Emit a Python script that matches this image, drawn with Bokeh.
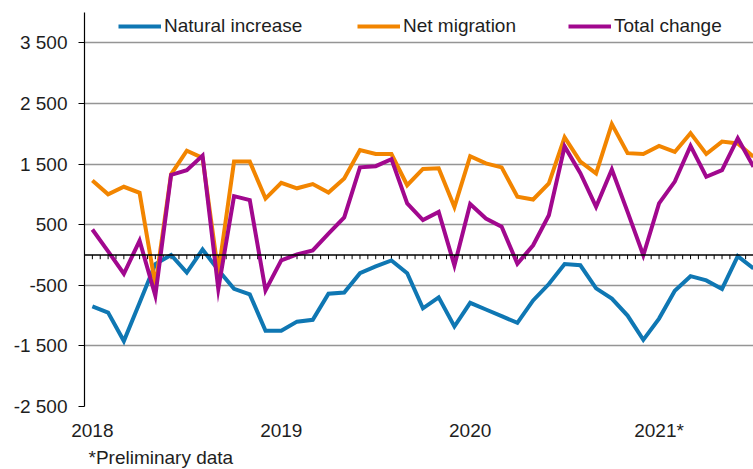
import numpy as np
from bokeh.plotting import figure
from bokeh.models import FixedTicker, Span, Legend, LegendItem, Title, Range1d, ColumnDataSource
from bokeh.embed import file_html
from bokeh.resources import INLINE

# Months Jan 2018 .. Jul 2021
months = [f"{y}-{m:02d}" for y in range(2018, 2022) for m in range(1, 13)][:43]

natural_increase = [-850, -950, -1420, -790, -150, 0, -290, 90, -250, -560, -650, -1250,
                    -1250, -1100, -1070, -640, -620, -300, -190, -90, -300, -880, -700, -1180,
                    -790, -900, -1010, -1120, -750, -480, -150, -170, -550, -720, -1000, -1400,
                    -1050, -590, -350, -420, -560, -20, -220]
net_migration = [1230, 1000, 1125, 1025, -500, 1330, 1720, 1600, -300, 1540, 1540, 930,
                 1190, 1100, 1170, 1030, 1260, 1730, 1665, 1665, 1150, 1420, 1430, 790,
                 1630, 1510, 1445, 960, 915, 1180, 1940, 1540, 1345, 2160, 1680, 1665,
                 1800, 1700, 2010, 1665, 1870, 1840, 1620]
total_change = [420, 60, -310, 235, -670, 1320, 1400, 1640, -560, 970, 905, -585,
                -90, 10, 75, 350, 620, 1445, 1465, 1580, 850, 575, 710, -175,
                840, 600, 465, -145, 160, 655, 1790, 1350, 795, 1410, 710, -5,
                850, 1210, 1800, 1290, 1400, 1925, 1455]

series_names = ["Natural increase", "Net migration", "Total change"]
series_colors = ["#0F77B3", "#F28500", "#A1088E"]

year_ticks = [0, 12, 24, 36]
year_labels = ["2018", "2019", "2020", "2021*"]
y_ticks = [-2500, -1500, -500, 500, 1500, 2500, 3500]
y_labels = ["-2 500", "-1 500", "-500", "500", "1 500", "2 500", "3 500"]
footnote = "*Preliminary data"

FONT = "Liberation Sans"
FS = "19px"
TXT = "#1e1e1e"

x = np.arange(len(months))
src = ColumnDataSource(dict(x=x, ni=natural_increase, nm=net_migration, tc=total_change))

p = figure(width=753, height=469, x_range=Range1d(-0.5, 42), y_range=Range1d(-2500, 4000),
           output_backend="svg", toolbar_location=None,
           min_border_left=84, min_border_right=0, min_border_top=12, min_border_bottom=0)
p.outline_line_color = None
p.background_fill_color = "white"

# axes
p.yaxis.ticker = FixedTicker(ticks=y_ticks)
p.yaxis.major_label_overrides = {t: l for t, l in zip(y_ticks, y_labels)}
p.yaxis.axis_line_color = "black"
p.yaxis.axis_line_width = 1.2
p.yaxis.major_tick_line_color = "black"
p.yaxis.major_tick_out = 6
p.yaxis.major_tick_in = 0
p.yaxis.minor_tick_line_color = None
p.yaxis.major_label_standoff = 11
p.yaxis.major_label_text_font = FONT
p.yaxis.major_label_text_font_size = FS
p.yaxis.major_label_text_color = TXT

p.xaxis.ticker = FixedTicker(ticks=year_ticks)
p.xaxis.major_label_overrides = {t: l for t, l in zip(year_ticks, year_labels)}
p.xaxis.axis_line_color = None
p.xaxis.major_tick_line_color = None
p.xaxis.minor_tick_line_color = None
p.xaxis.major_tick_out = 0
p.xaxis.major_tick_in = 0
p.xaxis.major_label_standoff = 13
p.xaxis.major_label_text_font = FONT
p.xaxis.major_label_text_font_size = FS
p.xaxis.major_label_text_color = TXT

p.xgrid.grid_line_color = None
p.ygrid.ticker = FixedTicker(ticks=y_ticks)
p.ygrid.grid_line_color = "#959595"
p.ygrid.grid_line_width = 1.3

# zero line with half-month tick marks
p.add_layout(Span(location=0, dimension="width", line_color="black", line_width=1.5))
tick_x = np.arange(0, len(months) * 2) / 2.0
p.segment(x0=tick_x, y0=np.zeros_like(tick_x), x1=tick_x, y1=np.full_like(tick_x, -70.0),
          line_color="black", line_width=1)

renderers = []
for col, name, color in zip(["ni", "nm", "tc"], series_names, series_colors):
    r = p.line("x", col, source=src, line_color=color, line_width=4, line_join="miter")
    renderers.append(r)

legend_x = [34, 273, 484]
for r, name, lx in zip(renderers, series_names, legend_x):
    leg = Legend(items=[LegendItem(label=name, renderers=[r])], location=(lx, 369),
                 orientation="horizontal", padding=0, margin=0, spacing=0,
                 glyph_width=43, glyph_height=20, label_height=20, label_standoff=3,
                 label_text_font=FONT, label_text_font_size=FS, label_text_color=TXT,
                 background_fill_alpha=0, border_line_color=None)
    p.add_layout(leg, "center")

p.add_layout(Title(text=footnote, align="left", offset=4, text_font=FONT, text_font_size=FS,
                   text_font_style="normal", text_color=TXT, standoff=3), "below")

open("out.html", "w").write(file_html(p, INLINE))
